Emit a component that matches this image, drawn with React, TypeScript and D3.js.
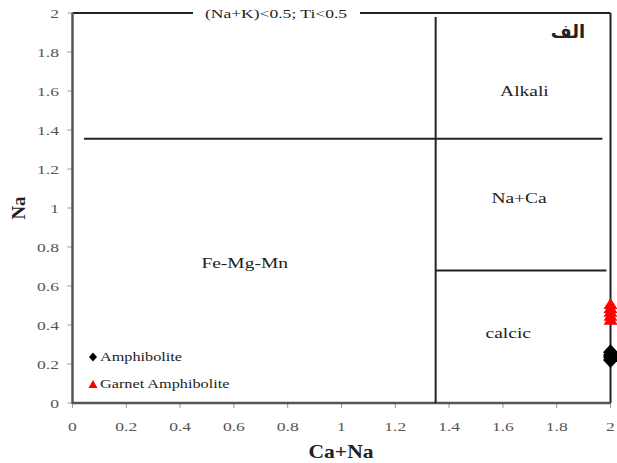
import React from 'react';
import * as d3 from 'd3';

// tick labels
const xTicks = [0, 0.2, 0.4, 0.6, 0.8, 1, 1.2, 1.4, 1.6, 1.8, 2];
const yTicks = [0, 0.2, 0.4, 0.6, 0.8, 1, 1.2, 1.4, 1.6, 1.8, 2];

// sample points (Ca+Na, Na)
const amphiboliteX = [2, 2, 2, 2];
const amphiboliteY = [0.26, 0.245, 0.235, 0.22];
const garnetX = [2, 2, 2, 2, 2];
const garnetY = [0.51, 0.49, 0.47, 0.45, 0.43];

// field boundaries [x1, y1, x2, y2]
const boundaries = [
  [1.35, 1.98, 1.35, 0],
  [0.043, 1.355, 1.97, 1.355],
  [1.35, 0.68, 1.985, 0.68],
];

const fields = [
  { name: 'Alkali', x: 1.68, y: 1.6 },
  { name: 'Na+Ca', x: 1.66, y: 1.05 },
  { name: 'Fe-Mg-Mn', x: 0.64, y: 0.72 },
  { name: 'calcic', x: 1.62, y: 0.36 },
];

const W = 617;
const H = 463;
const x = d3.scaleLinear().domain([0, 2]).range([72.5, 610.5]);
const y = d3.scaleLinear().domain([0, 2]).range([403, 13]);

const serif = '"Liberation Serif", "Times New Roman", serif';
const SX = 1.3; // the picture is a bit wider than tall

const diamond = (cx: number, cy: number, hw: number, hh: number) => {
  const p = d3.path();
  p.moveTo(cx, cy - hh);
  p.lineTo(cx + hw, cy);
  p.lineTo(cx, cy + hh);
  p.lineTo(cx - hw, cy);
  p.closePath();
  return p.toString();
};

const triangle = (cx: number, cy: number, hw: number, hh: number) => {
  const p = d3.path();
  p.moveTo(cx, cy - hh);
  p.lineTo(cx + hw, cy + hh);
  p.lineTo(cx - hw, cy + hh);
  p.closePath();
  return p.toString();
};

const T = ({ x: tx, y: ty, size, anchor = 'start', weight = 'normal', fill = '#222', sx = SX, children }: any) => (
  <g transform={`translate(${tx},${ty}) scale(${sx},1)`}>
    <text fontFamily={serif} fontSize={size} textAnchor={anchor} fontWeight={weight} fill={fill}>
      {children}
    </text>
  </g>
);

const App: React.FC = () => {
  return (
    <svg width={W} height={H} style={{ position: 'absolute', left: 0, top: 0, background: '#fff' }}>
      {/* ticks */}
      {yTicks.map(t => (
        <g key={'y' + t}>
          <line x1={x(0) - 5} x2={x(0)} y1={y(t)} y2={y(t)} stroke="#999" strokeWidth={1} />
          <T x={59} y={y(t) + 4.5} size={13.5} anchor="end" fill="#555">{t}</T>
        </g>
      ))}
      {xTicks.map(t => (
        <g key={'x' + t}>
          <line x1={x(t)} x2={x(t)} y1={y(0)} y2={y(0) + 5} stroke="#999" strokeWidth={1} />
          <T x={x(t)} y={431} size={13.5} anchor="middle" fill="#555">{t}</T>
        </g>
      ))}

      {/* frame */}
      <line x1={x(0)} x2={193} y1={y(2)} y2={y(2)} stroke="#222" strokeWidth={2} />
      <line x1={360} x2={x(2)} y1={y(2)} y2={y(2)} stroke="#222" strokeWidth={2} />
      <line x1={x(2)} x2={x(2)} y1={y(2)} y2={y(0)} stroke="#222" strokeWidth={2} />
      <line x1={x(0)} x2={x(0)} y1={y(2)} y2={y(0) + 1} stroke="#555" strokeWidth={2.5} />
      <line x1={x(0)} x2={x(2)} y1={y(0)} y2={y(0)} stroke="#555" strokeWidth={2.5} />
      <T x={276} y={18} size={13.5} anchor="middle">(Na+K)&lt;0.5; Ti&lt;0.5</T>

      {/* field boundaries */}
      {boundaries.map((b, i) => (
        <line key={i} x1={x(b[0])} y1={y(b[1])} x2={x(b[2])} y2={y(b[3])} stroke="#222" strokeWidth={2} />
      ))}
      {fields.map(f => (
        <T key={f.name} x={x(f.x)} y={y(f.y) + 5} size={15} anchor="middle">{f.name}</T>
      ))}
      <text x={568} y={38} fontSize={18} fontWeight="bold" textAnchor="middle" fill="#222"
        fontFamily='"DejaVu Sans", sans-serif'>الف</text>

      {/* points */}
      {garnetY.map((v, i) => (
        <path key={'g' + i} d={triangle(x(garnetX[i]), y(v), 7, 5.5)} fill="#ff0000" />
      ))}
      {amphiboliteY.map((v, i) => (
        <path key={'a' + i} d={diamond(x(amphiboliteX[i]), y(v), 7.5, 8)} fill="#000" />
      ))}

      {/* legend */}
      <path d={diamond(93, 357, 4, 4.5)} fill="#000" />
      <T x={100} y={361} size={12.5}>Amphibolite</T>
      <path d={triangle(93, 384, 4.5, 4)} fill="#ff0000" />
      <T x={100} y={388} size={12.5}>Garnet Amphibolite</T>

      {/* axis titles */}
      <T x={341} y={458} size={18} anchor="middle" weight="bold" sx={1.2}>Ca+Na</T>
      <g transform={`translate(25,208) rotate(-90)`}>
        <text fontFamily={serif} fontSize={19} fontWeight="bold" textAnchor="middle" fill="#222">Na</text>
      </g>
    </svg>
  );
};

export default App;
